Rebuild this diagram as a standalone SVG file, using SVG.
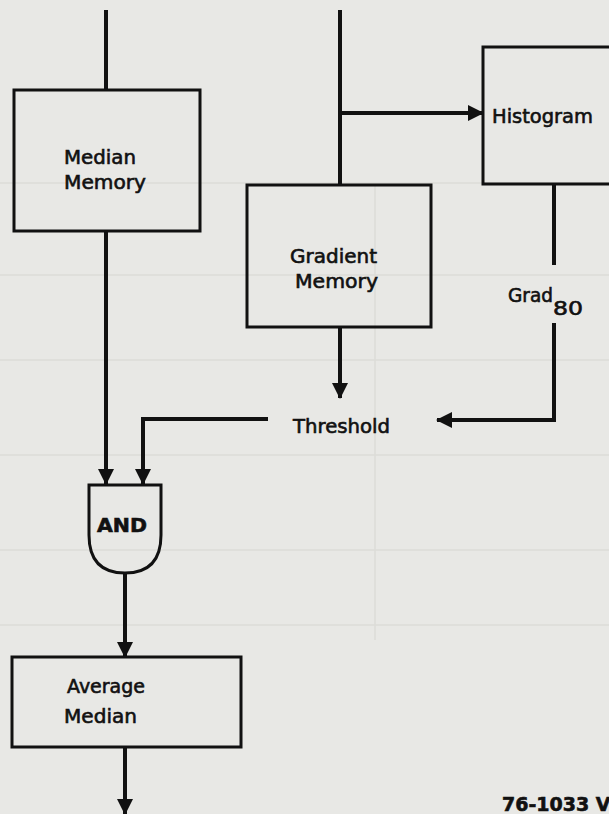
<svg xmlns="http://www.w3.org/2000/svg" width="609" height="814" viewBox="0 0 609 814">
<defs>
<style>
.box{fill:none;stroke:#111;stroke-width:3}
.ln{fill:none;stroke:#111;stroke-width:4}
.t{font-family:"DejaVu Sans",sans-serif;font-size:19px;fill:#111;stroke:#111;stroke-width:0.6}
.grid{stroke:#dcdcd8;stroke-width:1.5;fill:none}
</style>
<marker id="ah" viewBox="0 0 16 18" refX="15" refY="9" markerWidth="16" markerHeight="18" orient="auto" markerUnits="userSpaceOnUse">
<path d="M0,1 L16,9 L0,17 Z" fill="#111"/>
</marker>
</defs>
<rect width="609" height="814" fill="#e8e8e5"/>
<g id="bg">
<path class="grid" d="M0,183 H609 M0,275 H609 M0,360 H609 M0,455 H609 M0,550 H609 M0,625 H609 M375,185 V640"/>
</g>
<g id="connectors">
<path class="ln" d="M106,10 V90"/>
<path class="ln" d="M106,231 V484" marker-end="url(#ah)"/>
<path class="ln" d="M340,10 V185"/>
<path class="ln" d="M340,113 H483" marker-end="url(#ah)"/>
<path class="ln" d="M340,327 V398" marker-end="url(#ah)"/>
<path class="ln" d="M554,184 V265"/>
<path class="ln" d="M554,323 V420 H437" marker-end="url(#ah)"/>
<path class="ln" d="M268,419 H143 V484" marker-end="url(#ah)"/>
<path class="ln" d="M125,573 V657" marker-end="url(#ah)"/>
<path class="ln" d="M125,747 V814" marker-end="url(#ah)"/>
</g>
<g id="median-memory">
<rect class="box" x="14" y="90" width="186" height="141"/>
<text class="t" x="64" y="164" textLength="72" lengthAdjust="spacingAndGlyphs">Median</text>
<text class="t" x="64" y="189" textLength="82" lengthAdjust="spacingAndGlyphs">Memory</text>
</g>
<g id="gradient-memory">
<rect class="box" x="247" y="185" width="184" height="142"/>
<text class="t" x="290" y="263" textLength="87" lengthAdjust="spacingAndGlyphs">Gradient</text>
<text class="t" x="295" y="288" textLength="83" lengthAdjust="spacingAndGlyphs">Memory</text>
</g>
<g id="histogram">
<path class="box" d="M612,47 H483 V184 H612"/>
<text class="t" x="492" y="123" font-size="19.5" textLength="101" lengthAdjust="spacingAndGlyphs">Histogram</text>
</g>
<g id="grad80">
<text class="t" x="508" y="302" font-size="17.5" textLength="45" lengthAdjust="spacingAndGlyphs">Grad</text>
<text class="t" x="553" y="315" font-size="22" textLength="30" lengthAdjust="spacingAndGlyphs">80</text>
</g>
<g id="threshold">
<text class="t" x="293" y="433" font-size="20.5" textLength="97" lengthAdjust="spacingAndGlyphs">Threshold</text>
</g>
<g id="and-gate">
<path class="box" d="M89,485 H161 V535 Q161,573 125,573 Q89,573 89,535 Z"/>
<text class="t" x="97" y="532" font-size="20" font-weight="bold" textLength="50" lengthAdjust="spacingAndGlyphs">AND</text>
</g>
<g id="average-median">
<rect class="box" x="12" y="657" width="229" height="90"/>
<text class="t" x="67" y="693" textLength="78" lengthAdjust="spacingAndGlyphs">Average</text>
<text class="t" x="64" y="723" textLength="73" lengthAdjust="spacingAndGlyphs">Median</text>
</g>
<g id="figure-number">
<text class="t" x="502" y="811" font-size="15" font-weight="bold">76-1033 V</text>
</g>
</svg>
